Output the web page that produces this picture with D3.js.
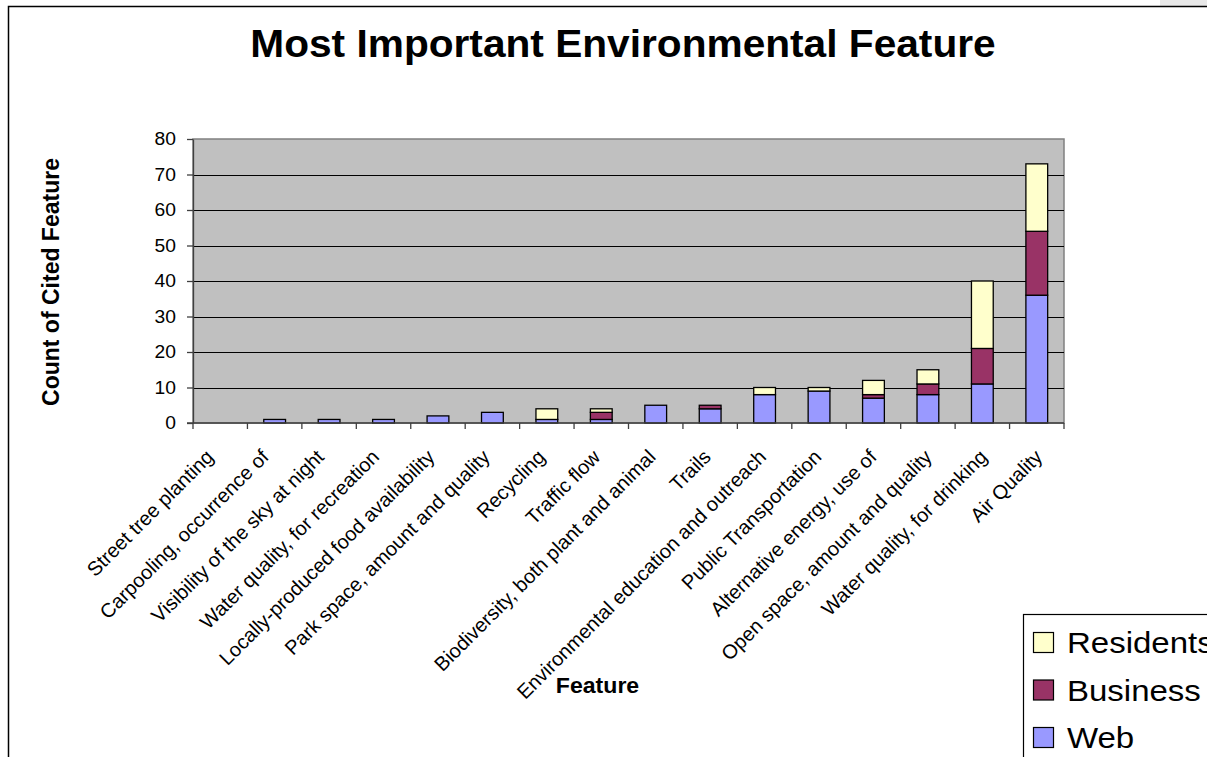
<!DOCTYPE html>
<html>
<head>
<meta charset="utf-8">
<script src="https://cdn.jsdelivr.net/npm/d3@7"></script>
<style>
  html, body { margin: 0; padding: 0; background: #fff; }
  svg { display: block; font-family: "Liberation Sans", Arial, sans-serif; }
</style>
</head>
<body>
<svg id="chart" width="1207" height="757"></svg>
<script>
const categories = [
  "Street tree planting",
  "Carpooling, occurrence of",
  "Visibility of the sky at night",
  "Water quality, for recreation",
  "Locally-produced food availability",
  "Park space, amount and quality",
  "Recycling",
  "Traffic flow",
  "Biodiversity, both plant and animal",
  "Trails",
  "Environmental education and outreach",
  "Public Transportation",
  "Alternative energy, use of",
  "Open space, amount and quality",
  "Water quality, for drinking",
  "Air Quality"
];
const web       = [0, 1, 1, 1, 2, 3, 1, 1, 5, 4, 8, 9, 7, 8, 11, 36];
const business  = [0, 0, 0, 0, 0, 0, 0, 2, 0, 1, 0, 0, 1, 3, 10, 18];
const residents = [0, 0, 0, 0, 0, 0, 3, 1, 0, 0, 2, 1, 4, 4, 19, 19];
const seriesNames = ["Web", "Business", "Residents"];
const seriesColors = ["#9999FF", "#993366", "#FFFFCC"];
const yTicks = [0, 10, 20, 30, 40, 50, 60, 70, 80];
const chartTitle = "Most Important Environmental Feature";
const xTitle = "Feature";
const yTitle = "Count of Cited Feature";

const svg = d3.select("#chart");

// outer chart frame
svg.append("rect").attr("x", 1160).attr("y", 0).attr("width", 47).attr("height", 6).attr("fill", "#e8e8e8");
svg.append("rect").attr("x", 8.5).attr("y", 6.5).attr("width", 1400).attr("height", 900)
  .attr("fill", "#fff").attr("stroke", "#000").attr("stroke-width", 1.5);

const plot = { left: 193, right: 1064, top: 139, bottom: 423 };

const x = d3.scaleBand().domain(categories).range([plot.left, plot.right])
  .paddingInner(0.6).paddingOuter(0.3);
const y = d3.scaleLinear().domain([0, 80]).range([plot.bottom, plot.top]);
// label anchor positions (Excel spreads rotated labels slightly wider than the categories)
const xLabel = d3.scalePoint().domain(categories).range([204, 1033]);

// plot area
svg.append("rect").attr("x", plot.left).attr("y", plot.top)
  .attr("width", plot.right - plot.left).attr("height", plot.bottom - plot.top)
  .attr("fill", "#C0C0C0").attr("stroke", "#808080").attr("stroke-width", 1.5);

// gridlines
svg.append("g").selectAll("line").data(yTicks.filter(d => d > 0 && d < 80)).join("line")
  .attr("x1", plot.left).attr("x2", plot.right)
  .attr("y1", d => Math.round(y(d)) + 0.5).attr("y2", d => Math.round(y(d)) + 0.5)
  .attr("stroke", "#000").attr("stroke-width", 1);

// stacked bars
const rows = categories.map((c, i) => ({ cat: c, Web: web[i], Business: business[i], Residents: residents[i] }));
const stack = d3.stack().keys(seriesNames)(rows);
svg.append("g").selectAll("g").data(stack).join("g")
  .attr("fill", (d, i) => seriesColors[i])
  .selectAll("rect").data(d => d.filter(s => s[1] - s[0] > 0)).join("rect")
  .attr("x", d => x(d.data.cat))
  .attr("width", x.bandwidth())
  .attr("y", d => y(d[1]))
  .attr("height", d => y(d[0]) - y(d[1]))
  .attr("stroke", "#000").attr("stroke-width", 1.3);

// y axis
const yAxis = svg.append("g").attr("transform", `translate(${plot.left},0)`)
  .call(d3.axisLeft(y).tickValues(yTicks).tickSize(6).tickPadding(9).tickSizeOuter(0));
yAxis.select(".domain").attr("stroke", "#404040").attr("stroke-width", 1.3);
yAxis.selectAll(".tick line").attr("stroke", "#404040").attr("stroke-width", 1.3);
yAxis.selectAll(".tick text").attr("font-size", 18).attr("fill", "#000")
  .attr("font-family", "Liberation Sans, Arial, sans-serif")
  .attr("transform", "translate(-1,0) scale(1.07,1)");

// x axis line + category boundary ticks
const bounds = d3.range(categories.length + 1).map(i => plot.left + i * (plot.right - plot.left) / categories.length);
svg.append("line").attr("x1", plot.left - 6).attr("x2", plot.right)
  .attr("y1", plot.bottom).attr("y2", plot.bottom).attr("stroke", "#404040").attr("stroke-width", 1.3);
svg.append("g").selectAll("line").data(bounds).join("line")
  .attr("x1", d => d).attr("x2", d => d).attr("y1", plot.bottom).attr("y2", plot.bottom + 6)
  .attr("stroke", "#404040").attr("stroke-width", 1.3);

// x labels
const xAxis = svg.append("g").attr("transform", `translate(0,${plot.bottom})`)
  .call(d3.axisBottom(xLabel).tickSize(0).tickPadding(0));
xAxis.select(".domain").remove();
xAxis.selectAll(".tick text")
  .attr("font-size", 20).attr("fill", "#000")
  .attr("font-family", "Liberation Sans, Arial, sans-serif")
  .attr("text-anchor", "end")
  .attr("x", 0).attr("y", 0).attr("dy", "0.72em")
  .attr("transform", "translate(0,25) rotate(-45)");

// title
svg.append("text").attr("x", 623).attr("y", 57)
  .attr("text-anchor", "middle").attr("font-weight", "bold").attr("font-size", 38)
  .attr("transform", "translate(623,0) scale(1.07,1) translate(-623,0)")
  .text(chartTitle);

// axis titles
svg.append("text").attr("text-anchor", "middle").attr("font-weight", "bold").attr("font-size", 22)
  .attr("transform", "translate(597.5,693) scale(1.05,1)")
  .text(xTitle);
svg.append("text").attr("text-anchor", "middle").attr("font-weight", "bold").attr("font-size", 23)
  .attr("transform", "translate(59,282) rotate(-90)")
  .text(yTitle);

// legend
const legend = svg.append("g");
legend.append("rect").attr("x", 1023.5).attr("y", 614.5).attr("width", 300).attr("height", 300)
  .attr("fill", "#fff").attr("stroke", "#000").attr("stroke-width", 1.2);
const legendOrder = [2, 1, 0];
const lg = legend.selectAll("g.item").data(legendOrder).join("g").attr("class", "item")
  .attr("transform", (d, i) => `translate(0,${i * 47.5})`);
lg.append("rect").attr("x", 1033.5).attr("y", 632.5).attr("width", 20).attr("height", 20)
  .attr("fill", d => seriesColors[d]).attr("stroke", "#000").attr("stroke-width", 1.2);
lg.append("text").attr("font-size", 30).attr("fill", "#000")
  .attr("transform", "translate(1067,653) scale(1.1,1)")
  .text(d => seriesNames[d]);
</script>
</body>
</html>
